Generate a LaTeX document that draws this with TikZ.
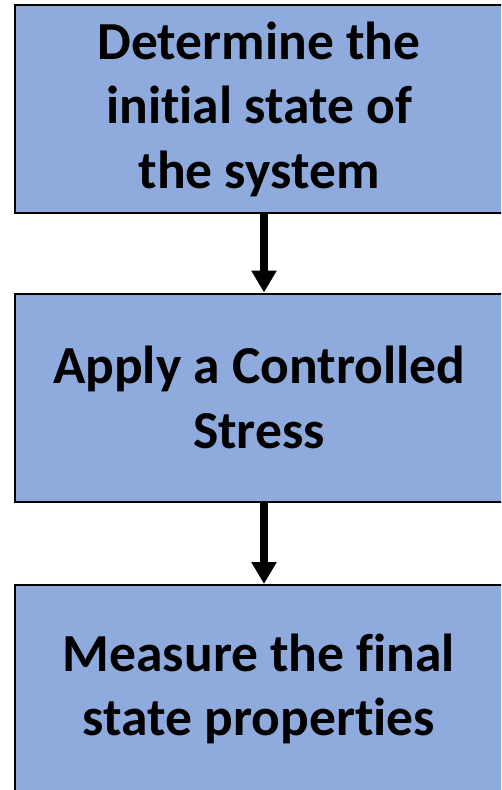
\documentclass[tikz,border=0pt]{standalone}
\usepackage{fontspec}
\setmainfont[Ligatures=NoCommon]{Carlito}
\usetikzlibrary{arrows.meta}
\definecolor{boxblue}{RGB}{143,170,220}
\tikzset{
  stepbox/.style={draw=black, line width=2pt, fill=boxblue, minimum width=488pt, minimum height=208pt,
    inner sep=0pt, align=center, font=\fontsize{53.5}{64.5}\selectfont\bfseries},
  flowarrow/.style={line width=8pt, -{Triangle[width=24pt,length=22pt]}}
}
\begin{document}
\begin{tikzpicture}[x=1pt,y=-1pt]
\useasboundingbox (0,0) rectangle (501,790);
\clip (0,0) rectangle (501,790);
\node[stepbox] (a) at (259,109) {Determine the\\initial state of\\the system};
\node[stepbox] (b) at (259,397.5) {Apply a Controlled\\Stress};
\node[stepbox] (c) at (259,689) {Measure the final\\state properties};
\draw[flowarrow] (a.south -| 264,0) -- (b.north -| 264,0);
\draw[flowarrow] (b.south -| 264,0) -- (c.north -| 264,0);
\end{tikzpicture}
\end{document}
